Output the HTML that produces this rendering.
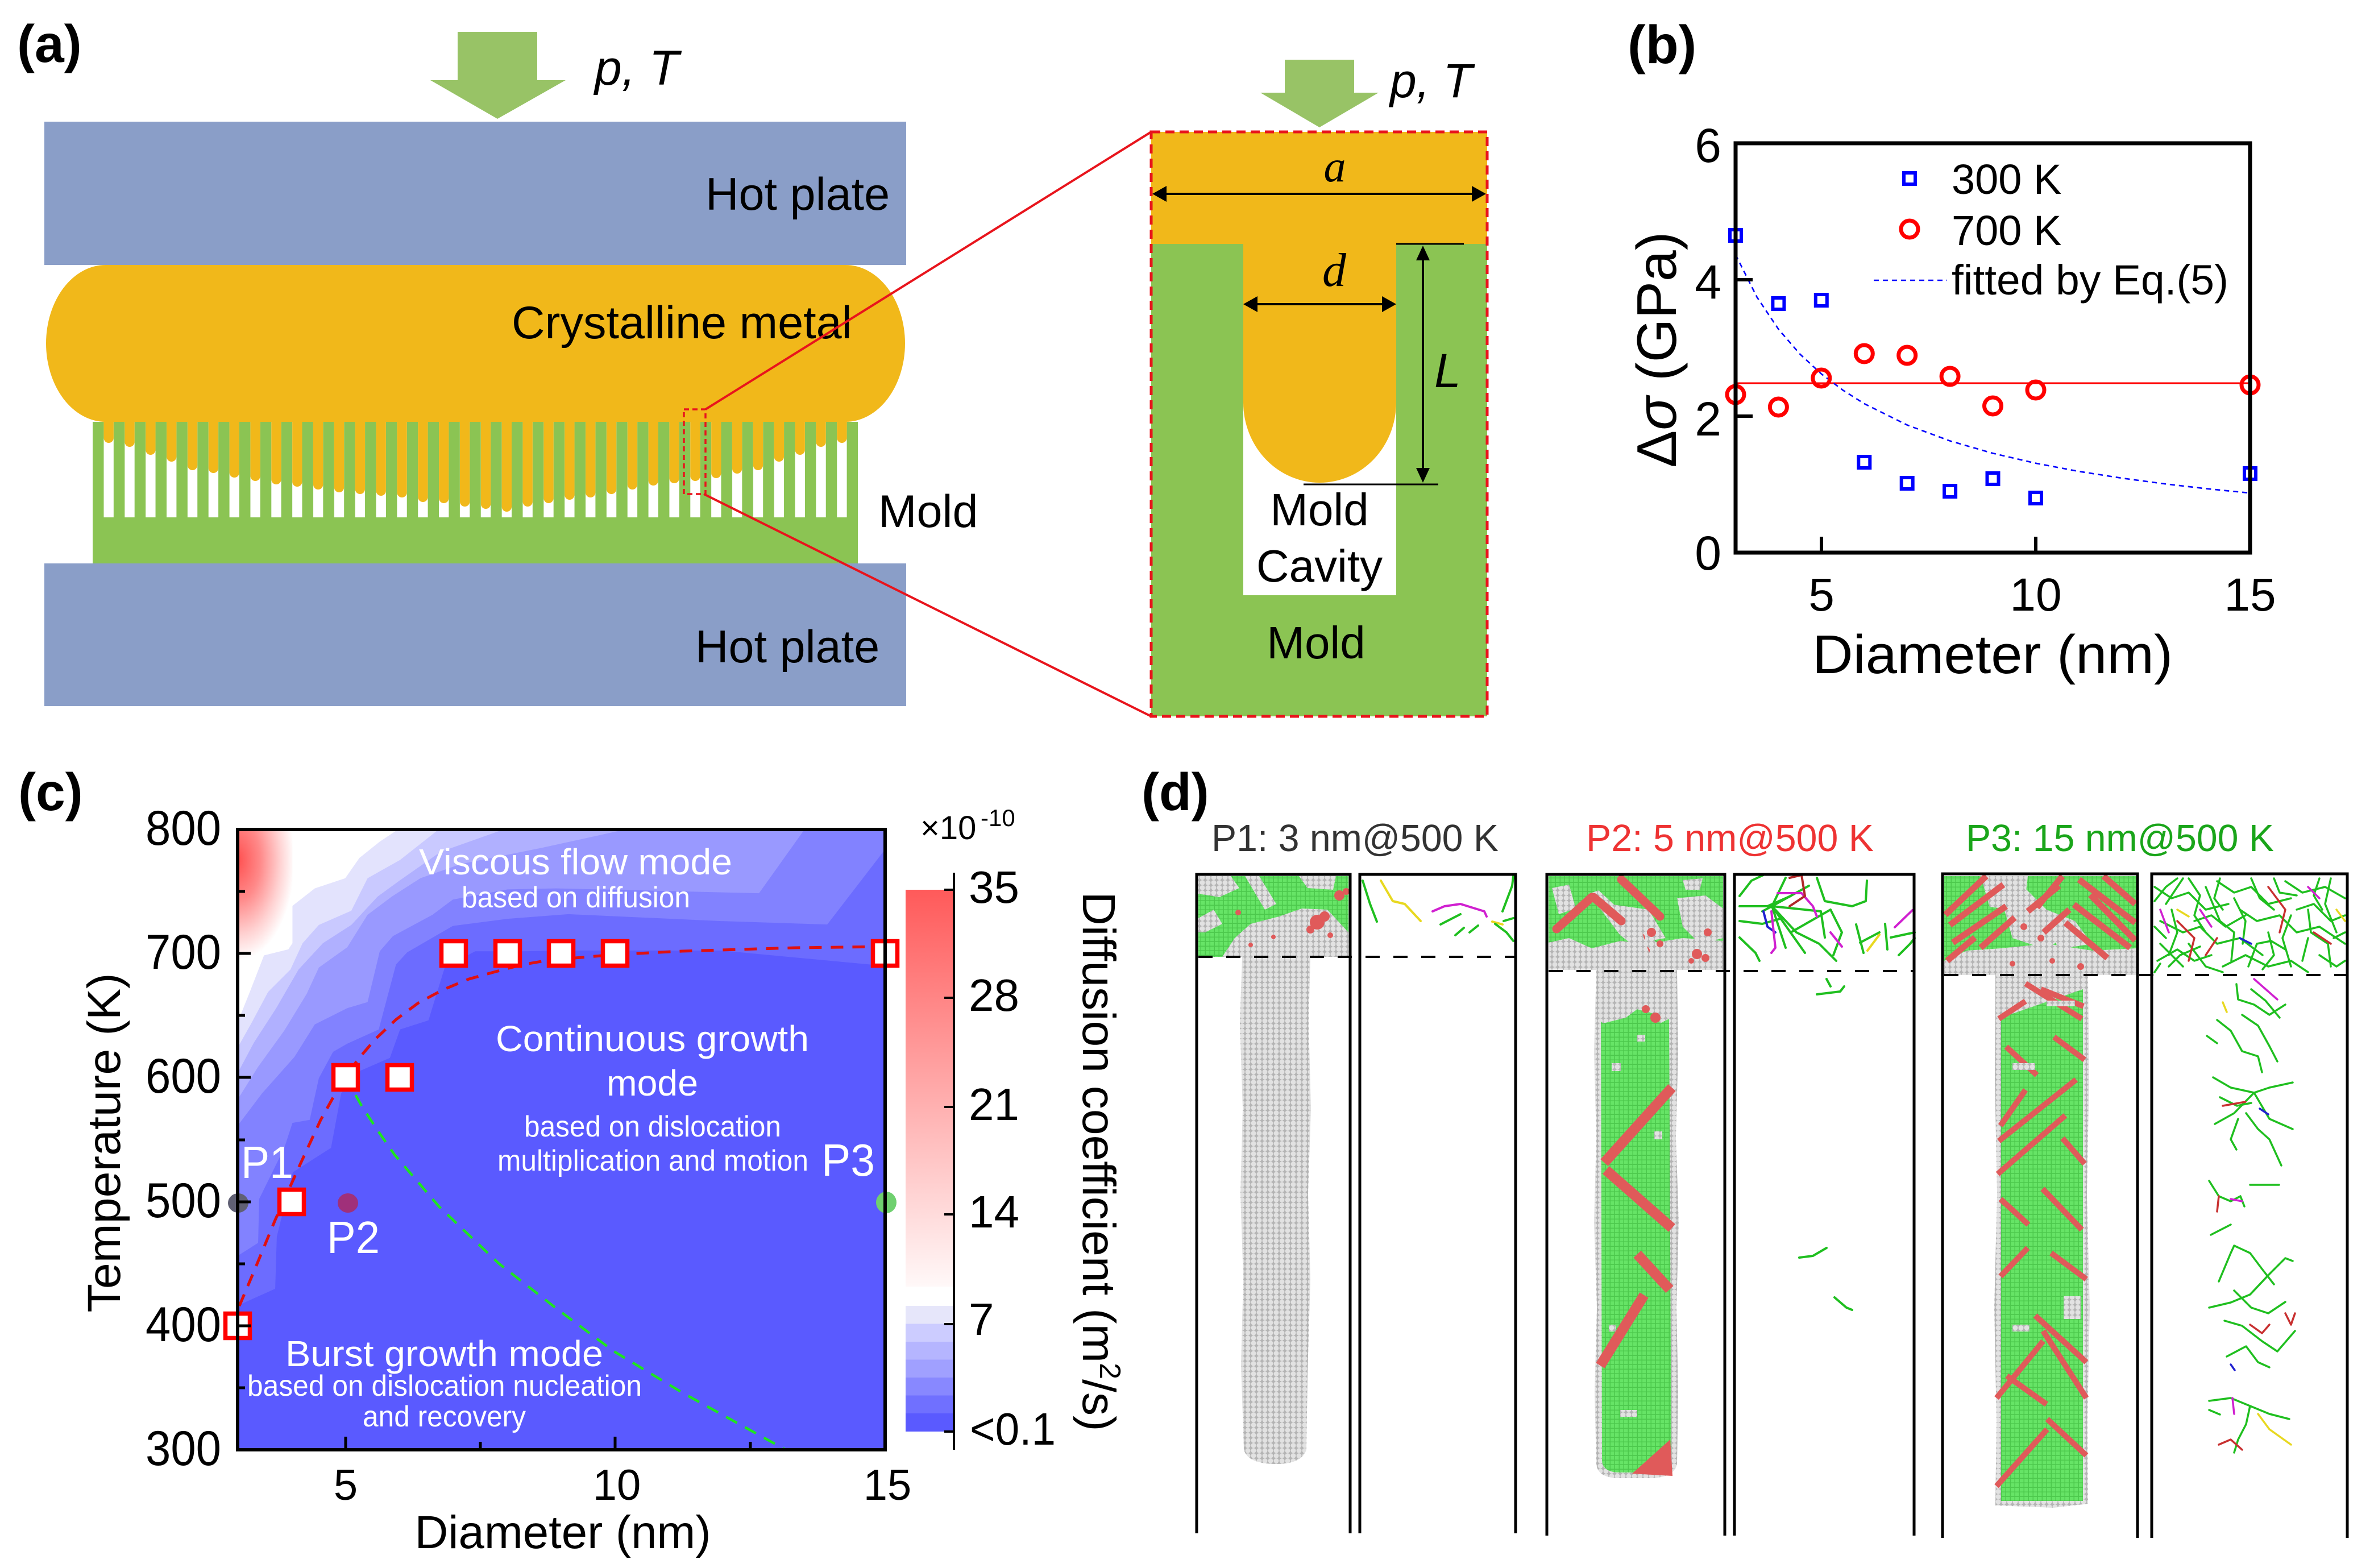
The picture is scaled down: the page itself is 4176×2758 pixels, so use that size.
<!DOCTYPE html>
<html><head><meta charset="utf-8"><style>
html,body{margin:0;padding:0;background:#fff;}
svg{display:block;}
text{font-family:"Liberation Sans",Arial,sans-serif;}
</style></head><body>
<svg width="4176" height="2758" viewBox="0 0 4176 2758" xmlns="http://www.w3.org/2000/svg">
<defs>
<pattern id="gaps" x="163" y="0" width="36.85" height="10" patternUnits="userSpaceOnUse"><rect x="19.5" y="0" width="17.35" height="10" fill="#fff"/></pattern>
<pattern id="atoms" x="0" y="0" width="10" height="9" patternUnits="userSpaceOnUse"><rect width="10" height="9" fill="#b4b4b4"/><circle cx="5" cy="4.5" r="4.4" fill="#e2e2e2"/></pattern>
<pattern id="gat" width="8" height="8" patternUnits="userSpaceOnUse"><rect width="8" height="8" fill="#4cc84c"/><rect x="1" y="1" width="6.5" height="6.5" fill="#66e466"/></pattern>
<radialGradient id="rc" gradientUnits="userSpaceOnUse" cx="0" cy="150" r="330" gradientTransform="translate(0,150) scale(0.85,1.5) translate(0,-150)">
<stop offset="0" stop-color="#ff5050"/><stop offset="0.4" stop-color="#ff8a8a"/><stop offset="0.75" stop-color="#ffd2d2"/><stop offset="1" stop-color="#ffffff"/></radialGradient>
<linearGradient id="cbr" x1="0" y1="0" x2="0" y2="1"><stop offset="0" stop-color="#ff5a5a"/><stop offset="1" stop-color="#fff8f8"/></linearGradient>
<clipPath id="cp"><rect x="0" y="0" width="3189" height="3055"/></clipPath>
</defs>
<rect width="4176" height="2758" fill="#fff"/>

<!-- ================= PANEL A ================= -->
<text x="30" y="109" font-size="93" font-weight="bold">(a)</text>
<polygon points="805,56 945,56 945,141 995,141 875,209 757,141 805,141" fill="#98c366"/>
<text x="1046" y="149" font-size="86" font-style="italic">p,  T</text>
<rect x="78" y="214" width="1516" height="252" fill="#8a9ec8"/>
<text x="1241" y="369" font-size="81">Hot plate</text>
<rect x="163" y="742" width="1346" height="249" fill="#8bc453"/>
<rect x="163" y="742" width="1346" height="168" fill="url(#gaps)"/>
<g fill="#f1b81a">
<rect x="182.5" y="730" width="17.35" height="49" rx="8.7"/>
<rect x="219.35" y="730" width="17.35" height="56" rx="8.7"/>
<rect x="256.2" y="730" width="17.35" height="70" rx="8.7"/>
<rect x="293.05" y="730" width="17.35" height="82" rx="8.7"/>
<rect x="329.9" y="730" width="17.35" height="97" rx="8.7"/>
<rect x="366.75" y="730" width="17.35" height="102" rx="8.7"/>
<rect x="403.6" y="730" width="17.35" height="110" rx="8.7"/>
<rect x="440.45" y="730" width="17.35" height="116" rx="8.7"/>
<rect x="477.3" y="730" width="17.35" height="122" rx="8.7"/>
<rect x="514.15" y="730" width="17.35" height="126" rx="8.7"/>
<rect x="551" y="730" width="17.35" height="131" rx="8.7"/>
<rect x="587.85" y="730" width="17.35" height="136" rx="8.7"/>
<rect x="624.7" y="730" width="17.35" height="139" rx="8.7"/>
<rect x="661.55" y="730" width="17.35" height="142" rx="8.7"/>
<rect x="698.4" y="730" width="17.35" height="145" rx="8.7"/>
<rect x="735.25" y="730" width="17.35" height="153" rx="8.7"/>
<rect x="772.1" y="730" width="17.35" height="155" rx="8.7"/>
<rect x="808.95" y="730" width="17.35" height="161" rx="8.7"/>
<rect x="845.8" y="730" width="17.35" height="165" rx="8.7"/>
<rect x="882.65" y="730" width="17.35" height="170" rx="8.7"/>
<rect x="919.5" y="730" width="17.35" height="161" rx="8.7"/>
<rect x="956.35" y="730" width="17.35" height="155" rx="8.7"/>
<rect x="993.2" y="730" width="17.35" height="149" rx="8.7"/>
<rect x="1030.05" y="730" width="17.35" height="145" rx="8.7"/>
<rect x="1066.9" y="730" width="17.35" height="139" rx="8.7"/>
<rect x="1103.75" y="730" width="17.35" height="131" rx="8.7"/>
<rect x="1140.6" y="730" width="17.35" height="124" rx="8.7"/>
<rect x="1177.45" y="730" width="17.35" height="120" rx="8.7"/>
<rect x="1214.3" y="730" width="17.35" height="116" rx="8.7"/>
<rect x="1251.15" y="730" width="17.35" height="111" rx="8.7"/>
<rect x="1288" y="730" width="17.35" height="103" rx="8.7"/>
<rect x="1324.85" y="730" width="17.35" height="97" rx="8.7"/>
<rect x="1361.7" y="730" width="17.35" height="82" rx="8.7"/>
<rect x="1398.55" y="730" width="17.35" height="70" rx="8.7"/>
<rect x="1435.4" y="730" width="17.35" height="56" rx="8.7"/>
<rect x="1472.25" y="730" width="17.35" height="49" rx="8.7"/>
</g>
<rect x="81" y="466" width="1511" height="276" rx="105" ry="138" fill="#f1b81a"/>
<text x="900" y="595" font-size="81">Crystalline metal</text>
<rect x="78" y="991" width="1516" height="251" fill="#8a9ec8"/>
<text x="1223" y="1165" font-size="81">Hot plate</text>
<text x="1545" y="927" font-size="81">Mold</text>
<rect x="1203" y="720" width="38" height="149" fill="none" stroke="#e8141c" stroke-width="3.5" stroke-dasharray="9,6"/>
<line x1="1241" y1="720" x2="2025" y2="232" stroke="#e8141c" stroke-width="4"/>
<line x1="1238" y1="869" x2="2025" y2="1260" stroke="#e8141c" stroke-width="4"/>

<!-- detail -->
<polygon points="2260,105 2382,105 2382,163 2425,163 2321,224 2217,163 2260,163" fill="#98c366"/>
<text x="2445" y="171" font-size="84" font-style="italic">p,  T</text>
<rect x="2025" y="232" width="591" height="197" fill="#f1b81a"/>
<rect x="2025" y="429" width="591" height="831" fill="#8bc453"/>
<rect x="2187" y="429" width="269" height="618" fill="#fff"/>
<path d="M2187,429 H2456 V708 A134.5,141 0 0 1 2187,708 Z" fill="#f1b81a"/>
<rect x="2025" y="232" width="591" height="1028" fill="none" stroke="#e8141c" stroke-width="5" stroke-dasharray="16,9"/>
<line x1="2048" y1="341" x2="2593" y2="341" stroke="#000" stroke-width="4"/>
<polygon points="2027,341 2052,327 2052,355" fill="#000"/>
<polygon points="2614,341 2589,327 2589,355" fill="#000"/>
<text x="2348" y="319" font-size="78" font-style="italic" text-anchor="middle" style="font-family:'Liberation Serif',serif">a</text>
<line x1="2208" y1="535" x2="2435" y2="535" stroke="#000" stroke-width="4"/>
<polygon points="2187,535 2212,521 2212,549" fill="#000"/>
<polygon points="2456,535 2431,521 2431,549" fill="#000"/>
<text x="2347" y="503" font-size="84" font-style="italic" text-anchor="middle" style="font-family:'Liberation Serif',serif">d</text>
<line x1="2503" y1="452" x2="2503" y2="829" stroke="#000" stroke-width="4"/>
<polygon points="2503,432 2491,458 2515,458" fill="#000"/>
<polygon points="2503,849 2491,823 2515,823" fill="#000"/>
<line x1="2456" y1="429" x2="2575" y2="429" stroke="#000" stroke-width="3"/>
<line x1="2293" y1="852" x2="2530" y2="852" stroke="#000" stroke-width="3"/>
<text x="2523" y="681" font-size="84" font-style="italic">L</text>
<text x="2321" y="924" font-size="80" text-anchor="middle">Mold</text>
<text x="2321" y="1023" font-size="80" text-anchor="middle">Cavity</text>
<text x="2315" y="1158" font-size="80" text-anchor="middle">Mold</text>

<!-- ================= PANEL B ================= -->
<text x="2863" y="111" font-size="95" font-weight="bold">(b)</text>
<line x1="3053" y1="674" x2="3958" y2="674" stroke="#ff0000" stroke-width="3"/>
<path d="M3053,448 L3090.7,522.8 L3128.4,579 L3166.1,622.7 L3203.8,657.6 L3241.6,686.2 L3279.3,710 L3354.7,747.5 L3430.1,775.5 L3505.5,797.3 L3581,814.8 L3656.4,829.1 L3731.8,840.9 L3807.2,851 L3882.6,859.7 L3958,867.2" fill="none" stroke="#0000ff" stroke-width="2.6" stroke-dasharray="9,7"/>
<g fill="none" stroke="#0000ff" stroke-width="6">
<rect x="3043" y="404" width="20" height="20"/>
<rect x="3118.4" y="524" width="20" height="20"/>
<rect x="3193.8" y="518" width="20" height="20"/>
<rect x="3269.3" y="803" width="20" height="20"/>
<rect x="3344.7" y="840" width="20" height="20"/>
<rect x="3420.1" y="854" width="20" height="20"/>
<rect x="3495.5" y="832" width="20" height="20"/>
<rect x="3571" y="866" width="20" height="20"/>
<rect x="3948" y="823" width="20" height="20"/>
<rect x="3349" y="304" width="20" height="20"/>
</g>
<g fill="none" stroke="#ff0000" stroke-width="7">
<ellipse cx="3053" cy="694" rx="15" ry="15"/>
<ellipse cx="3128.4" cy="716" rx="15" ry="15"/>
<ellipse cx="3203.8" cy="665" rx="15" ry="15"/>
<ellipse cx="3279.3" cy="622" rx="15" ry="15"/>
<ellipse cx="3354.7" cy="625" rx="15" ry="15"/>
<ellipse cx="3430.1" cy="662" rx="15" ry="15"/>
<ellipse cx="3505.5" cy="714" rx="15" ry="15"/>
<ellipse cx="3581" cy="686" rx="15" ry="15"/>
<ellipse cx="3958" cy="677" rx="15" ry="15"/>
<ellipse cx="3359" cy="403" rx="15" ry="15"/>
</g>
<rect x="3053" y="252" width="905" height="720" fill="none" stroke="#000" stroke-width="7"/>
<g stroke="#000" stroke-width="6">
<line x1="3053" y1="492" x2="3083" y2="492"/>
<line x1="3053" y1="732" x2="3083" y2="732"/>
<line x1="3204" y1="972" x2="3204" y2="944"/>
<line x1="3581" y1="972" x2="3581" y2="944"/>
</g>
<g font-size="84" text-anchor="end">
<text x="3028" y="285">6</text>
<text x="3028" y="525">4</text>
<text x="3028" y="766">2</text>
<text x="3028" y="1002">0</text>
</g>
<g font-size="82" text-anchor="middle">
<text x="3204" y="1074">5</text>
<text x="3581" y="1074">10</text>
<text x="3958" y="1074">15</text>
</g>
<text x="3505" y="1184" font-size="96" text-anchor="middle" textLength="634" lengthAdjust="spacingAndGlyphs">Diameter (nm)</text>
<text transform="translate(2948,615) rotate(-90)" font-size="98" text-anchor="middle" textLength="415" lengthAdjust="spacingAndGlyphs">Δ<tspan font-style="italic">σ</tspan> (GPa)</text>
<g font-size="74">
<text x="3433" y="341">300 K</text>
<text x="3433" y="431">700 K</text>
<text x="3433" y="518" textLength="487" lengthAdjust="spacingAndGlyphs">fitted by Eq.(5)</text>
</g>
<line x1="3296" y1="493" x2="3425" y2="493" stroke="#0000ff" stroke-width="2.6" stroke-dasharray="9,7"/>

<!-- ================= PANEL C ================= -->
<text x="32" y="1425" font-size="93" font-weight="bold">(c)</text>
<g transform="translate(418,1459) scale(0.357143)" clip-path="url(#cp)">
<rect x="0" y="0" width="3189" height="3055" fill="#5a5aff"/>
<polygon fill="#6c6cff" points="0,2345 185,2262 193,2005 272,1688 460,1568 510,1300 600,1190 750,1125 800,985 940,940 1020,680 1170,600 1400,600 1630,596 2380,596 3189,672 3189,0 0,0"/>
<polygon fill="#8282ff" points="0,2100 101,2036 106,1820 230,1568 270,1445 355,1430 400,1225 470,1095 540,1055 695,985 780,665 835,605 1060,475 1330,440 1630,417 2380,451 2904,468 3189,98 3189,0 0,0"/>
<polygon fill="#9999ff" points="0,1459 120,1300 280,1120 380,960 540,880 640,850 700,600 765,525 960,420 1060,345 1330,295 1568,290 2568,314 2792,0 0,0"/>
<polygon fill="#b0b0ff" points="0,1330 100,1170 230,990 340,810 400,680 540,580 640,420 760,330 900,240 1100,170 1500,90 1910,0 0,0"/>
<polygon fill="#c9c9ff" points="0,1200 80,1050 190,880 300,690 420,560 560,470 690,330 800,250 1000,110 1310,0 0,0"/>
<polygon fill="#e3e3fd" points="0,1075 70,950 150,800 260,690 320,560 400,470 560,400 640,240 800,150 990,0 0,0"/>
<polygon fill="#ffffff" points="0,950 60,800 130,620 250,590 265,380 380,290 530,240 600,140 700,60 790,0 0,0"/>
<path d="M0,0 H270 V560 L250,590 L130,620 L0,640 Z" fill="url(#rc)"/>
</g>
<polyline points="421,2297 446,2238 484,2146 528,2048 564,1970 589,1925 629,1864 661,1827 697,1793 736,1764 779,1741 825,1722 872,1709 918,1697 964,1689 1082,1679 1200,1673 1400,1667 1557,1665" fill="none" stroke="#e01010" stroke-width="5" stroke-dasharray="22,16"/>
<polyline points="607,1893 636,1945 664,1988 694,2031 772,2122 877,2222 982,2304 1080,2377 1201,2450 1382,2550" fill="none" stroke="#1ee61e" stroke-width="4.5" stroke-dasharray="22,16"/>
<g fill="#fff" stroke="#ff0000" stroke-width="7.5">
<rect x="396.5" y="2310.5" width="43" height="43"/>
<rect x="491.5" y="2092.5" width="43" height="43"/>
<rect x="586.5" y="1873.5" width="43" height="43"/>
<rect x="681.5" y="1873.5" width="43" height="43"/>
<rect x="776.5" y="1655.5" width="43" height="43"/>
<rect x="871.5" y="1655.5" width="43" height="43"/>
<rect x="965.5" y="1655.5" width="43" height="43"/>
<rect x="1060.5" y="1655.5" width="43" height="43"/>
<rect x="1535.5" y="1655.5" width="43" height="43"/>
</g>
<ellipse cx="419" cy="2116" rx="18" ry="17" fill="#606074"/>
<ellipse cx="612" cy="2116" rx="18" ry="17" fill="#a0307a"/>
<ellipse cx="1559" cy="2115" rx="18" ry="19" fill="#6fd06f"/>
<g fill="#fff">
<text x="424" y="2072" font-size="80" textLength="92" lengthAdjust="spacingAndGlyphs">P1</text>
<text x="575" y="2204" font-size="80" textLength="93" lengthAdjust="spacingAndGlyphs">P2</text>
<text x="1445" y="2068" font-size="80" textLength="94" lengthAdjust="spacingAndGlyphs">P3</text>
<text x="737" y="1538" font-size="64" textLength="551" lengthAdjust="spacingAndGlyphs">Viscous flow mode</text>
<text x="812" y="1596" font-size="52" textLength="402" lengthAdjust="spacingAndGlyphs">based on diffusion</text>
<text x="872" y="1849" font-size="64" textLength="551" lengthAdjust="spacingAndGlyphs">Continuous growth</text>
<text x="1067" y="1927" font-size="64" textLength="161" lengthAdjust="spacingAndGlyphs">mode</text>
<text x="922" y="1999" font-size="52" textLength="452" lengthAdjust="spacingAndGlyphs">based on dislocation</text>
<text x="875" y="2059" font-size="52" textLength="547" lengthAdjust="spacingAndGlyphs">multiplication and motion</text>
<text x="502" y="2403" font-size="64" textLength="559" lengthAdjust="spacingAndGlyphs">Burst growth mode</text>
<text x="435" y="2455" font-size="52" textLength="694" lengthAdjust="spacingAndGlyphs">based on dislocation nucleation</text>
<text x="638" y="2509" font-size="52" textLength="287" lengthAdjust="spacingAndGlyphs">and recovery</text>
</g>
<rect x="418" y="1459" width="1139" height="1091" fill="none" stroke="#000" stroke-width="6"/>
<g stroke="#000" stroke-width="5">
<line x1="418" y1="1677" x2="441" y2="1677"/>
<line x1="418" y1="1895" x2="441" y2="1895"/>
<line x1="418" y1="2114" x2="441" y2="2114"/>
<line x1="418" y1="2332" x2="441" y2="2332"/>
<line x1="418" y1="1568" x2="431" y2="1568"/>
<line x1="418" y1="1786" x2="431" y2="1786"/>
<line x1="418" y1="2005" x2="431" y2="2005"/>
<line x1="418" y1="2223" x2="431" y2="2223"/>
<line x1="418" y1="2441" x2="431" y2="2441"/>
<line x1="608" y1="2550" x2="608" y2="2527"/>
<line x1="1082" y1="2550" x2="1082" y2="2527"/>
<line x1="845" y1="2550" x2="845" y2="2536"/>
<line x1="1320" y1="2550" x2="1320" y2="2536"/>
</g>
<g font-size="86" text-anchor="end">
<text x="389" y="1486" textLength="133" lengthAdjust="spacingAndGlyphs">800</text>
<text x="389" y="1704" textLength="133" lengthAdjust="spacingAndGlyphs">700</text>
<text x="389" y="1922" textLength="133" lengthAdjust="spacingAndGlyphs">600</text>
<text x="389" y="2141" textLength="133" lengthAdjust="spacingAndGlyphs">500</text>
<text x="389" y="2359" textLength="133" lengthAdjust="spacingAndGlyphs">400</text>
<text x="389" y="2577" textLength="133" lengthAdjust="spacingAndGlyphs">300</text>
</g>
<g font-size="76" text-anchor="middle">
<text x="608" y="2638">5</text>
<text x="1085" y="2638">10</text>
<text x="1561" y="2638">15</text>
</g>
<text x="990" y="2723" font-size="82" text-anchor="middle" textLength="521" lengthAdjust="spacingAndGlyphs">Diameter (nm)</text>
<text transform="translate(211,2010) rotate(-90)" font-size="82" text-anchor="middle" textLength="597" lengthAdjust="spacingAndGlyphs">Temperature (K)</text>
<rect x="1593" y="1565" width="83" height="698" fill="url(#cbr)"/>
<rect x="1593" y="2297" width="83" height="32" fill="#e6e6fa"/>
<rect x="1593" y="2328.5" width="83" height="32" fill="#ccccff"/>
<rect x="1593" y="2360" width="83" height="32" fill="#b5b5ff"/>
<rect x="1593" y="2391.5" width="83" height="32" fill="#a0a0ff"/>
<rect x="1593" y="2423" width="83" height="32" fill="#8888ff"/>
<rect x="1593" y="2454.5" width="83" height="32" fill="#7070ff"/>
<rect x="1593" y="2486" width="83" height="32" fill="#5a5aff"/>
<line x1="1678" y1="1535" x2="1678" y2="2550" stroke="#000" stroke-width="4"/>
<g stroke="#000" stroke-width="4">
<line x1="1661" y1="1565" x2="1678" y2="1565"/>
<line x1="1661" y1="1755" x2="1678" y2="1755"/>
<line x1="1661" y1="1947" x2="1678" y2="1947"/>
<line x1="1661" y1="2136" x2="1678" y2="2136"/>
<line x1="1661" y1="2329" x2="1678" y2="2329"/>
<line x1="1661" y1="2518" x2="1678" y2="2518"/>
</g>
<g font-size="80">
<text x="1704" y="1588">35</text>
<text x="1704" y="1778">28</text>
<text x="1704" y="1970">21</text>
<text x="1704" y="2159">14</text>
<text x="1704" y="2348">7</text>
<text x="1706" y="2541" textLength="151" lengthAdjust="spacingAndGlyphs">&lt;0.1</text>
</g>
<text x="1619" y="1476" font-size="58">×10</text>
<text x="1725" y="1453" font-size="42">-10</text>
<text transform="translate(1905,2043) rotate(90)" font-size="82" text-anchor="middle" textLength="949" lengthAdjust="spacingAndGlyphs">Diffusion coefficient (m<tspan font-size="52" dy="-30">2</tspan><tspan dy="30">/s)</tspan></text>

<!-- ================= PANEL D ================= -->
<text x="2008" y="1425" font-size="93" font-weight="bold">(d)</text>
<text x="2131" y="1497" font-size="67" fill="#333333" textLength="505" lengthAdjust="spacingAndGlyphs">P1: 3 nm@500 K</text>
<text x="2790" y="1497" font-size="67" fill="#ee3333" textLength="506" lengthAdjust="spacingAndGlyphs">P2: 5 nm@500 K</text>
<text x="3458" y="1497" font-size="67" fill="#1aa51a" textLength="542" lengthAdjust="spacingAndGlyphs">P3: 15 nm@500 K</text>

<!-- P1 -->
<rect x="2108" y="1541" width="264" height="142" fill="url(#gat)"/>
<g fill="url(#atoms)">
<polygon points="2108,1541 2165,1541 2180,1562 2145,1578 2108,1572"/>
<polygon points="2190,1541 2215,1541 2245,1590 2225,1600"/>
<polygon points="2285,1541 2350,1541 2345,1565 2300,1562"/>
<polygon points="2150,1683 2372,1683 2372,1640 2335,1600 2290,1598 2250,1612 2200,1625 2172,1650"/>
<polygon points="2108,1615 2135,1600 2150,1625 2120,1640 2108,1640"/>
</g>
<g fill="#e05a5a">
<circle cx="2317" cy="1622" r="13"/><circle cx="2330" cy="1612" r="9"/><circle cx="2305" cy="1635" r="7"/>
<circle cx="2356" cy="1575" r="9"/><circle cx="2368" cy="1568" r="6"/><circle cx="2340" cy="1645" r="5"/>
<circle cx="2178" cy="1605" r="5"/><circle cx="2200" cy="1662" r="4"/><circle cx="2240" cy="1648" r="4"/>
</g>
<path d="M2185,1683 L2305,1683 L2302,1800 L2306,1950 L2301,2100 L2305,2250 L2300,2420 L2298,2550 Q2290,2575 2245,2575 Q2195,2575 2188,2550 L2183,2400 L2187,2250 L2182,2100 L2186,1950 L2181,1800 Z" fill="url(#atoms)"/>
<g fill="none" stroke-width="4" stroke-linecap="round" stroke-linejoin="round">
<polyline points="2397,1549 2410,1590 2422,1621" stroke="#1fbf1f"/>
<polyline points="2429,1549 2450,1585 2471,1590 2499,1620" stroke="#e8d820"/>
<polyline points="2520,1603 2541,1594 2569,1590 2611,1603 2615,1612" stroke="#d020d0"/>
<polyline points="2534,1626 2569,1608" stroke="#1fbf1f"/>
<polyline points="2560,1645 2575,1632" stroke="#1fbf1f"/>
<polyline points="2585,1640 2600,1628" stroke="#1fbf1f"/>
<polyline points="2625,1621 2643,1626" stroke="#e8d820"/>
<polyline points="2643,1603 2660,1558 2662,1541" stroke="#1fbf1f"/>
<polyline points="2630,1625 2650,1640 2662,1655" stroke="#1fbf1f"/>
<polyline points="2645,1620 2662,1615" stroke="#1fbf1f"/>
</g>

<!-- P2 -->
<rect x="2724" y="1541" width="307" height="165" fill="url(#gat)"/>
<g fill="url(#atoms)">
<polygon points="2724,1658 2760,1650 2800,1668 2850,1655 2900,1660 2960,1650 3031,1655 3031,1706 2724,1706"/>
<polygon points="2795,1572 2812,1566 2870,1620 2940,1680 2915,1695 2850,1645"/>
<polygon points="2830,1590 2900,1600 2930,1650 2870,1660"/>
<polygon points="2950,1580 3000,1575 3031,1598 3031,1650 2990,1660 2960,1630"/>
<polygon points="2730,1562 2760,1556 2772,1598 2742,1608"/>
<polygon points="2960,1548 2995,1545 2990,1565 2965,1565"/>
</g>
<g stroke="#e05a5a" stroke-width="15" stroke-linecap="round">
<line x1="2738" y1="1634" x2="2800" y2="1578"/>
<line x1="2803" y1="1578" x2="2852" y2="1620"/>
<line x1="2852" y1="1547" x2="2920" y2="1612"/>
</g>
<g fill="#e05a5a">
<circle cx="2885" cy="1650" r="9"/><circle cx="2905" cy="1640" r="8"/><circle cx="2895" cy="1672" r="7"/><circle cx="2920" cy="1660" r="6"/>
<circle cx="2985" cy="1678" r="9"/><circle cx="3000" cy="1685" r="7"/><circle cx="3004" cy="1640" r="7"/><circle cx="2975" cy="1690" r="5"/>
</g>
<path d="M2808,1706 L2950,1706 L2952,1850 L2948,2000 L2953,2150 L2949,2300 L2952,2450 L2950,2575 Q2945,2600 2900,2600 L2850,2600 Q2810,2600 2808,2575 L2805,2450 L2809,2300 L2804,2150 L2808,2000 L2804,1850 Z" fill="url(#atoms)"/>
<path d="M2822,1760 L2936,1790 L2940,2580 Q2930,2590 2900,2590 L2850,2590 Q2820,2590 2818,2570 L2816,1760 Z" fill="url(#gat)"/>
<g fill="url(#atoms)">
<polygon points="2808,1706 2950,1706 2950,1800 2930,1790 2900,1760 2860,1790 2820,1800 2808,1790"/>
<polygon points="2860,1620 2880,1615 2940,1790 2920,1800"/>
<rect x="2835" y="1870" width="16" height="14"/><rect x="2880" y="1820" width="14" height="12"/><rect x="2910" y="1990" width="14" height="14"/>
<rect x="2850" y="2480" width="30" height="12"/><rect x="2830" y="2330" width="12" height="12"/>
</g>
<g stroke="#e05a5a" stroke-width="18">
<line x1="2941" y1="1913" x2="2822" y2="2045"/>
<line x1="2825" y1="2058" x2="2941" y2="2160"/>
<line x1="2880" y1="2206" x2="2937" y2="2268"/>
<line x1="2892" y1="2278" x2="2815" y2="2402"/>
</g>
<g fill="#e05a5a">
<polygon points="2871,2592 2938,2532 2942,2596"/>
<circle cx="2912" cy="1790" r="9"/><circle cx="2895" cy="1775" r="7"/>
</g>
<g fill="none" stroke-width="4" stroke-linecap="round" stroke-linejoin="round">
<g stroke="#1fbf1f">
<polyline points="3100,1603 3117,1594 3141,1544"/>
<polyline points="3117,1594 3182,1558"/>
<polyline points="3117,1594 3203,1603 3210,1649"/>
<polyline points="3117,1594 3175,1676"/>
<polyline points="3117,1594 3141,1667"/>
<polyline points="3117,1594 3160,1640 3200,1660 3230,1690"/>
<polyline points="3060,1594 3109,1594 3150,1576"/>
<polyline points="3060,1649 3088,1676 3095,1690"/>
<polyline points="3060,1576 3081,1549 3102,1539"/>
<polyline points="3060,1620 3100,1625 3135,1615"/>
<polyline points="3196,1544 3210,1585 3258,1594 3282,1585 3284,1549"/>
<polyline points="3150,1640 3185,1620 3220,1600 3240,1640 3225,1680"/>
<polyline points="3265,1626 3278,1676"/>
<polyline points="3272,1658 3306,1640"/>
<polyline points="3316,1625 3320,1670"/>
<polyline points="3326,1649 3368,1640"/>
<polyline points="3340,1680 3360,1660 3368,1650"/>
<polyline points="3196,1749 3237,1744 3244,1735"/>
<polyline points="3213,1722 3220,1735"/>
<polyline points="3165,2212 3189,2209 3213,2195"/>
<polyline points="3227,2282 3248,2300 3258,2304"/>
</g>
<polyline points="3102,1603 3109,1630 3123,1640" stroke="#2020d0"/>
<polyline points="3116,1603 3123,1667 3116,1676" stroke="#d020d0"/>
<polyline points="3127,1571 3169,1571 3189,1594 3196,1612" stroke="#d020d0"/>
<polyline points="3148,1544 3169,1539 3175,1576 3148,1594" stroke="#b02828"/>
<polyline points="3285,1672 3306,1644" stroke="#e8d820"/>
<polyline points="3333,1631 3364,1601" stroke="#d020d0"/>
<polyline points="3220,1640 3240,1665" stroke="#d020d0"/>
</g>

<!-- P3 -->
<rect x="3420" y="1541" width="338" height="174" fill="url(#gat)"/>
<g fill="url(#atoms)">
<polygon points="3420,1690 3460,1672 3520,1668 3600,1660 3680,1672 3758,1668 3758,1715 3420,1715"/>
<polygon points="3520,1580 3560,1560 3600,1600 3640,1640 3600,1670 3540,1650"/>
<polygon points="3484,1541 3567,1541 3560,1603 3500,1595"/>
<polygon points="3600,1600 3650,1620 3680,1660 3620,1670"/>
</g>
<g stroke="#e05a5a" stroke-width="11">
<line x1="3422" y1="1609" x2="3494" y2="1541"/>
<line x1="3430" y1="1627" x2="3524" y2="1556"/>
<line x1="3435" y1="1658" x2="3529" y2="1594"/>
<line x1="3425" y1="1690" x2="3474" y2="1649"/>
<line x1="3484" y1="1667" x2="3544" y2="1614"/>
<line x1="3583" y1="1596" x2="3628" y2="1541"/>
<line x1="3657" y1="1547" x2="3756" y2="1623"/>
<line x1="3677" y1="1574" x2="3756" y2="1654"/>
<line x1="3648" y1="1591" x2="3747" y2="1667"/>
<line x1="3633" y1="1623" x2="3707" y2="1685"/>
<line x1="3567" y1="1603" x2="3622" y2="1558"/>
<line x1="3700" y1="1541" x2="3756" y2="1590"/>
<line x1="3595" y1="1640" x2="3640" y2="1600"/>
</g>
<g fill="#e05a5a">
<circle cx="3560" cy="1630" r="6"/><circle cx="3590" cy="1650" r="6"/><circle cx="3610" cy="1690" r="5"/><circle cx="3660" cy="1700" r="6"/><circle cx="3540" cy="1695" r="5"/>
</g>
<path d="M3510,1715 L3673,1715 L3675,1900 L3671,2100 L3676,2300 L3672,2500 L3673,2645 L3612,2652 L3510,2648 L3512,2500 L3508,2300 L3513,2100 L3509,1900 Z" fill="url(#atoms)"/>
<path d="M3520,1790 L3664,1740 L3664,2640 L3520,2640 Z" fill="url(#gat)"/>
<g stroke="#e05a5a" stroke-width="10">
<line x1="3563" y1="1730" x2="3662" y2="1792"/>
<line x1="3590" y1="1740" x2="3665" y2="1770"/>
<line x1="3516" y1="1792" x2="3563" y2="1761"/>
<line x1="3613" y1="1824" x2="3667" y2="1864"/>
<line x1="3529" y1="1841" x2="3583" y2="1891"/>
<line x1="3514" y1="2065" x2="3633" y2="1962"/>
<line x1="3519" y1="1980" x2="3563" y2="1917"/>
<line x1="3516" y1="2007" x2="3652" y2="1899"/>
<line x1="3628" y1="2002" x2="3667" y2="2047"/>
<line x1="3593" y1="2091" x2="3662" y2="2163"/>
<line x1="3519" y1="2109" x2="3568" y2="2154"/>
<line x1="3519" y1="2245" x2="3567" y2="2195"/>
<line x1="3608" y1="2204" x2="3670" y2="2250"/>
<line x1="3512" y1="2459" x2="3594" y2="2359"/>
<line x1="3580" y1="2314" x2="3670" y2="2396"/>
<line x1="3594" y1="2341" x2="3670" y2="2459"/>
<line x1="3512" y1="2614" x2="3601" y2="2514"/>
<line x1="3601" y1="2496" x2="3670" y2="2560"/>
<line x1="3530" y1="2420" x2="3600" y2="2470"/>
</g>
<g fill="url(#atoms)">
<rect x="3600" y="1760" width="50" height="10"/><rect x="3540" y="1870" width="40" height="12"/><rect x="3630" y="2280" width="30" height="40"/><rect x="3540" y="2330" width="30" height="12"/>
</g>
<g fill="none" stroke-width="3.5" stroke-linecap="round" stroke-linejoin="round">
<g stroke="#1fbf1f">
<polyline points="3790,1560 3820,1580 3850,1570 3880,1600 3920,1590"/>
<polyline points="3800,1620 3840,1640 3870,1630 3900,1660 3940,1650 3980,1680"/>
<polyline points="3795,1690 3830,1670 3860,1690 3890,1680"/>
<polyline points="3850,1545 3870,1575 3860,1610 3880,1640"/>
<polyline points="3900,1550 3930,1570 3960,1560 3990,1590 4030,1580"/>
<polyline points="3940,1600 3970,1620 4010,1610 4040,1640 4080,1630 4125,1660"/>
<polyline points="3960,1545 3975,1580 4000,1600"/>
<polyline points="4020,1550 4050,1570 4090,1560 4125,1580"/>
<polyline points="4040,1600 4070,1590 4100,1620 4125,1610"/>
<polyline points="3910,1700 3950,1680 3990,1700 4030,1690 4060,1710"/>
<polyline points="4080,1680 4110,1700 4125,1690"/>
<polyline points="3820,1600 3830,1640 3815,1680"/>
<polyline points="3990,1640 4000,1680 3980,1705"/>
<polyline points="4060,1650 4050,1690"/>
<polyline points="3880,1560 3905,1620 3930,1640 3925,1690"/>
<polyline points="4100,1545 4090,1590 4110,1640"/>
<polyline points="3800,1660 3840,1700"/>
<polyline points="3840,1545 3810,1590"/>
<polyline points="3850,1660 3880,1700 3910,1710"/>
<polyline points="3930,1580 3950,1620 3945,1660"/>
<polyline points="4000,1545 4010,1570 4040,1575"/>
<polyline points="3790,1630 3810,1650"/>
<polyline points="4060,1600 4065,1640 4095,1660 4100,1700"/>
<polyline points="3790,1585 3810,1560 3830,1545"/>
<polyline points="3860,1620 3890,1610 3915,1630 3950,1610"/>
<polyline points="3815,1700 3835,1680 3870,1665"/>
<polyline points="3955,1700 3970,1660 3995,1655 4020,1670"/>
<polyline points="4030,1610 4015,1650 4030,1700"/>
<polyline points="4080,1545 4070,1575 4085,1600"/>
<polyline points="3905,1545 3895,1580 3910,1600"/>
<polyline points="3790,1710 3800,1695"/>
<polyline points="4105,1650 4125,1640"/>
<polyline points="3934,1731 3937,1758 3965,1767 3992,1785 4020,1767"/>
<polyline points="3944,1785 3972,1804 3992,1840 4006,1867"/>
<polyline points="3900,1794 3924,1813 3944,1849 3972,1858 3979,1886"/>
<polyline points="3882,1822 3900,1835"/>
<polyline points="3960,1740 3985,1760 4010,1790"/>
<polyline points="3893,1895 3924,1913 3965,1922 3992,1913 4033,1904"/>
<polyline points="3896,1977 3930,1958 3965,1922 3992,1968 4033,1986"/>
<polyline points="3951,1958 3972,1986 3992,2004 4013,2050"/>
<polyline points="3937,1968 3924,2004 3934,2022"/>
<polyline points="3905,1930 3935,1945 3960,1940"/>
<polyline points="3886,2077 3903,2104 3924,2113 3941,2104 3948,2122"/>
<polyline points="3889,2172 3924,2154"/>
<polyline points="3958,2084 4009,2084"/>
<polyline points="3903,2254 3924,2204 3930,2191 3958,2204 3979,2232 4000,2259"/>
<polyline points="3886,2300 3924,2291 3958,2277 3992,2241 4020,2213 4033,2218"/>
<polyline points="3913,2323 3944,2332 3979,2359 4006,2377 4037,2341"/>
<polyline points="3917,2386 3951,2368 3972,2396 3992,2405"/>
<polyline points="3930,2270 3960,2300 3990,2310 4020,2290"/>
<polyline points="3886,2464 3924,2459 3958,2473 3992,2487 4027,2496"/>
<polyline points="3958,2473 3951,2505 3937,2532 3930,2555"/>
<polyline points="3886,2480 3905,2488"/>
</g>
<g stroke="#c83030">
<polyline points="3830,1620 3860,1650 3850,1690"/>
<polyline points="3990,1560 4020,1600 4010,1640"/>
<polyline points="4070,1640 4100,1660"/>
<polyline points="3880,1680 3900,1650"/>
<polyline points="3903,2104 3900,2131"/>
<polyline points="3910,1945 3950,1938"/>
<polyline points="4020,2310 4030,2330 4037,2310"/>
<polyline points="3958,2330 3979,2345 3992,2330"/>
<polyline points="3903,2541 3924,2532 3944,2550"/>
</g>
<g stroke="#d020d0">
<polyline points="3870,1600 3890,1630"/>
<polyline points="4060,1560 4080,1580"/>
<polyline points="3800,1600 3815,1640"/>
<polyline points="3965,1722 4006,1758"/>
<polyline points="3924,2109 3944,2113"/>
<polyline points="3927,2459 3930,2487"/>
</g>
<g stroke="#e8d820">
<polyline points="3830,1600 3850,1612"/>
<polyline points="4110,1600 4125,1620"/>
<polyline points="3910,1763 3917,1780"/>
<polyline points="3972,2487 3992,2514 4030,2541"/>
</g>
<g stroke="#2020d0">
<polyline points="3940,1650 3960,1660"/>
<polyline points="3975,1950 3990,1960"/>
<polyline points="3924,2400 3931,2410"/>
</g>
</g>

<g fill="none" stroke="#000" stroke-width="5">
<path d="M2105,2697 V1538 H2375 V2697"/>
<path d="M2392,2697 V1538 H2666 V2697"/>
<path d="M2721,2701 V1538 H3034 V2701"/>
<path d="M3051,2701 V1538 H3367 V2701"/>
<path d="M3417,2705 V1537 H3760 V2705"/>
<path d="M3785,2705 V1537 H4129 V2705"/>
</g>
<g stroke="#000" stroke-width="4" stroke-dasharray="25,24">
<line x1="2108" y1="1683" x2="2666" y2="1683"/>
<line x1="2724" y1="1708" x2="3368" y2="1708"/>
<line x1="3420" y1="1715" x2="4128" y2="1715"/>
</g>
</svg>
</body></html>
